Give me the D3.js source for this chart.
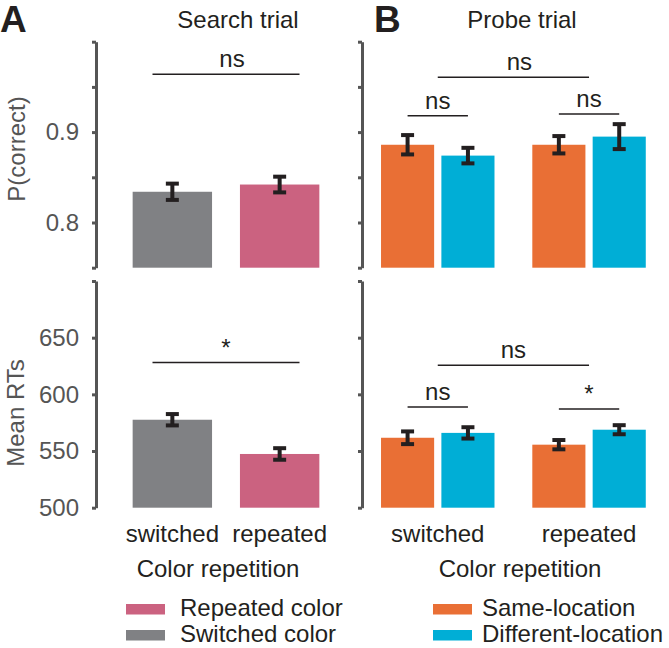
<html>
<script src='https://d3js.org/d3.v7.min.js'></script>
<style>
  body { margin: 0; background: #fff; }
  text { font-family: 'Liberation Sans', Arial, Helvetica, sans-serif; }
  .axis path, .axis line { stroke: #555; stroke-width: 3; }
  .axis text { fill: #555; font-size: 24px; }
</style>
<body onload='init()'>
<svg width=669 height=648></svg>
<script>
// ---- data ----
const searchCats = ['switched', 'repeated']
const searchColors = ['#808184', '#cb6280']
const searchAcc = [0.834, 0.842]
const searchAccErr = [0.009, 0.0087]
const searchRT = [577.6, 547.4]
const searchRTErr = [5.0, 5.1]

const probeGroups = ['switched', 'repeated']
const probeSeries = ['Same-location', 'Different-location']
const probeColors = ['#e96f35', '#00aed6']
const probeAccSame = [0.886, 0.886]
const probeAccDiff = [0.874, 0.895]
const probeAccSameErr = [0.0107, 0.0096]
const probeAccDiffErr = [0.0086, 0.0138]
const probeRTSame = [561.7, 555.6]
const probeRTDiff = [566.0, 568.8]
const probeRTSameErr = [5.6, 4.1]
const probeRTDiffErr = [5.0, 4.0]

const accTicks = [0.75, 0.8, 0.85, 0.9, 0.95, 1.0]
const accLabels = [0.8, 0.9]
const rtTicks = [500, 550, 600, 650, 700]
const rtLabels = [500, 550, 600, 650]

function init() {
  const svg = d3.select('svg')
  const yAcc = d3.scaleLinear().domain([0.75, 1.0]).range([267.7, 41.7])
  const yRT = d3.scaleLinear().domain([500, 700]).range([507.7, 281])

  const xA = d3.scaleBand().domain(searchCats).range([118.7, 333.3])
    .paddingInner(0.26).paddingOuter(0.13)
  const x0 = d3.scaleBand().domain(probeGroups).range([365.9, 660.9])
    .paddingInner(0.25).paddingOuter(0.1)
  const x1 = d3.scaleBand().domain(probeSeries).range([0, x0.bandwidth()])
    .paddingInner(0.12)

  function axis(x, y, ticks, labels, show) {
    svg.append('g').attr('class', 'axis')
      .attr('transform', 'translate(' + x + ',0)')
      .call(d3.axisLeft(y).tickValues(ticks).tickSize(4).tickSizeOuter(0).tickPadding(13)
        .tickFormat(d => (show && labels.includes(d)) ? d3.format('')(d) : ''))
  }
  axis(96, yAcc, accTicks, accLabels, true)
  axis(96, yRT, rtTicks, rtLabels, true)
  axis(362, yAcc, accTicks, accLabels, false)
  axis(362, yRT, rtTicks, rtLabels, false)

  function errbar(cx, y, v, e) {
    const g = svg.append('g').attr('stroke', '#231f20').attr('stroke-width', 4)
    g.append('line').attr('x1', cx).attr('x2', cx).attr('y1', y(v - e)).attr('y2', y(v + e))
    g.append('line').attr('x1', cx - 6.5).attr('x2', cx + 6.5).attr('y1', y(v - e)).attr('y2', y(v - e))
    g.append('line').attr('x1', cx - 6.5).attr('x2', cx + 6.5).attr('y1', y(v + e)).attr('y2', y(v + e))
  }

  function bar(x, w, y, v, e, color) {
    svg.append('rect').attr('x', x).attr('width', w)
      .attr('y', y(v)).attr('height', y.range()[0] - y(v)).attr('fill', color)
    errbar(x + w / 2, y, v, e)
  }

  // panel A
  searchCats.forEach((c, i) => {
    bar(xA(c), xA.bandwidth(), yAcc, searchAcc[i], searchAccErr[i], searchColors[i])
    bar(xA(c), xA.bandwidth(), yRT, searchRT[i], searchRTErr[i], searchColors[i])
  })
  // panel B
  const accS = [probeAccSame, probeAccDiff], accE = [probeAccSameErr, probeAccDiffErr]
  const rtS = [probeRTSame, probeRTDiff], rtE = [probeRTSameErr, probeRTDiffErr]
  probeGroups.forEach((gname, gi) => {
    probeSeries.forEach((s, si) => {
      const x = x0(gname) + x1(s)
      bar(x, x1.bandwidth(), yAcc, accS[si][gi], accE[si][gi], probeColors[si])
      bar(x, x1.bandwidth(), yRT, rtS[si][gi], rtE[si][gi], probeColors[si])
    })
  })

  // significance brackets
  function sig(xa, xb, yv, label, dx) {
    svg.append('line').attr('x1', xa).attr('x2', xb).attr('y1', yv).attr('y2', yv)
      .attr('stroke', '#231f20').attr('stroke-width', 1.5)
    svg.append('text').attr('x', (xa + xb) / 2 + (dx || 0)).attr('y', yv - 7)
      .attr('text-anchor', 'middle').attr('font-size', 24).attr('fill', '#231f20').text(label)
  }
  const aL = xA('switched') + xA.bandwidth() / 4, aR = xA('repeated') + xA.bandwidth() * 0.75
  sig(aL, aR, yAcc(0.964), 'ns', 6)
  sig(aL, aR, yRT(628), '*')
  const gc = g => x0(g) + x0.bandwidth() / 2
  const bc = (g, s) => x0(g) + x1(s) + x1.bandwidth() / 2
  sig(gc('switched'), gc('repeated'), yAcc(0.9606), 'ns', 6)
  sig(bc('switched', probeSeries[0]), bc('switched', probeSeries[1]), yAcc(0.918), 'ns')
  sig(bc('repeated', probeSeries[0]), bc('repeated', probeSeries[1]), yAcc(0.92), 'ns')
  sig(gc('switched'), gc('repeated'), yRT(625.6), 'ns')
  sig(bc('switched', probeSeries[0]), bc('switched', probeSeries[1]), yRT(588.8), 'ns')
  sig(bc('repeated', probeSeries[0]), bc('repeated', probeSeries[1]), yRT(587), '*')

  function txt(x, y, s, opts) {
    opts = opts || {}
    const t = svg.append('text').attr('x', x).attr('y', y).text(s)
      .attr('font-size', opts.size || 24).attr('fill', opts.fill || '#231f20')
      .attr('text-anchor', opts.anchor || 'middle')
    if (opts.bold) t.attr('font-weight', 'bold')
    if (opts.rot) t.attr('transform', 'rotate(-90,' + x + ',' + y + ')')
    return t
  }
  // panel letters and titles
  txt(0, 32, 'A', { size: 37, bold: true, anchor: 'start' })
  txt(374, 32, 'B', { size: 37, bold: true, anchor: 'start' })
  txt(238, 28, 'Search trial')
  txt(522, 28, 'Probe trial')
  txt(25, 149, 'P(correct)', { rot: true, fill: '#555' })
  txt(24, 413, 'Mean RTs', { rot: true, fill: '#555' })

  // category labels
  searchCats.forEach(c => txt(xA(c) + xA.bandwidth() / 2, 542, c))
  probeGroups.forEach(g => txt(gc(g), 542, g))
  txt(218, 577, 'Color repetition')
  txt(520, 577, 'Color repetition')

  // legends (kept a little higher so the second row fits inside the frame)
  const legA = [['Repeated color', searchColors[1]], ['Switched color', searchColors[0]]]
  legA.forEach((d, i) => {
    svg.append('rect').attr('x', 126).attr('y', 604 + i * 26).attr('width', 39).attr('height', 10.5).attr('fill', d[1])
    txt(180, 615.5 + i * 26, d[0], { anchor: 'start' })
  })
  probeSeries.forEach((s, i) => {
    svg.append('rect').attr('x', 433).attr('y', 604 + i * 26).attr('width', 39).attr('height', 10.5).attr('fill', probeColors[i])
    txt(482, 615.5 + i * 26, s, { anchor: 'start' })
  })
}
</script>
</body>
</html>
